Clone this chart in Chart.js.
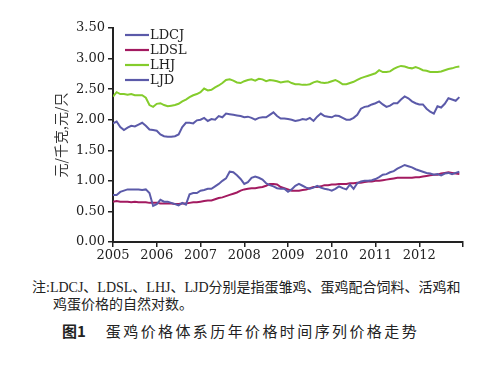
<!DOCTYPE html>
<html>
<head>
<meta charset="utf-8">
<script src="https://cdn.jsdelivr.net/npm/chart.js@4/dist/chart.umd.min.js"></script>
<style>
  body { margin: 0; background: #fff; width: 477px; height: 366px; position: relative; overflow: hidden; }
  #wrap { position: absolute; left: 0; top: 0; width: 477px; height: 270px; }
  .cap { position: absolute; font-family: "Liberation Serif", "Noto Sans CJK SC", serif; color: #222; white-space: nowrap; }
  #note1 { left: 32px; top: 276px; font-size: 14px; }
  #note2 { left: 53px; top: 293px; font-size: 14px; }
  #title { left: 62px; top: 320px; font-size: 15px; font-family: "Noto Sans CJK SC", sans-serif; }
  #title b { margin-right: 20px; }
  #title span { letter-spacing: 2.4px; }
</style>
</head>
<body>
<div id="wrap"><canvas id="c"></canvas></div>
<div class="cap" id="note1">注:LDCJ、LDSL、LHJ、LJD分别是指蛋雏鸡、蛋鸡配合饲料、活鸡和</div>
<div class="cap" id="note2">鸡蛋价格的自然对数。</div>
<div class="cap" id="title"><b>图1</b><span>蛋鸡价格体系历年价格时间序列价格走势</span></div>
<script>
// monthly series, Jan 2005 .. Dec 2012 (index 0..95)
const startYear = 2005;
const months = 96;

const ldcj = [
  0.77, 0.77, 0.82, 0.84, 0.86, 0.86, 0.86, 0.86, 0.85, 0.86, 0.80, 0.59,
  0.62, 0.69, 0.66, 0.66, 0.64, 0.62, 0.60, 0.64, 0.61, 0.78, 0.80, 0.80,
  0.84, 0.85, 0.87, 0.87, 0.91, 0.95, 1.00, 1.04, 1.15, 1.14, 1.09, 1.03,
  0.95, 0.98, 1.05, 1.07, 1.05, 1.02, 0.96, 0.93, 0.91, 0.88, 0.87, 0.87,
  0.82, 0.86, 0.92, 0.95, 0.92, 0.89, 0.87, 0.89, 0.92, 0.89, 0.87, 0.86,
  0.84, 0.87, 0.91, 0.88, 0.86, 0.94, 0.87, 0.96, 0.99, 1.00, 1.00, 1.01,
  1.03, 1.06, 1.10, 1.11, 1.14, 1.16, 1.20, 1.23, 1.26, 1.24, 1.22, 1.19,
  1.17, 1.15, 1.13, 1.12, 1.10, 1.11, 1.09, 1.12, 1.13, 1.11, 1.13, 1.15
];
const ldsl = [
  0.66, 0.67, 0.66, 0.66, 0.66, 0.65, 0.66, 0.65, 0.65, 0.65, 0.64, 0.64,
  0.64, 0.63, 0.63, 0.63, 0.63, 0.62, 0.62, 0.63, 0.63, 0.64, 0.65, 0.65,
  0.66, 0.67, 0.68, 0.68, 0.70, 0.72, 0.73, 0.75, 0.77, 0.79, 0.81, 0.84,
  0.86, 0.87, 0.88, 0.88, 0.89, 0.90, 0.92, 0.95, 0.95, 0.94, 0.90, 0.88,
  0.86, 0.84, 0.84, 0.84, 0.85, 0.86, 0.88, 0.90, 0.90, 0.91, 0.93, 0.93,
  0.94, 0.94, 0.95, 0.95, 0.95, 0.96, 0.96, 0.97, 0.97, 0.98, 0.99, 0.99,
  1.00, 1.00, 1.01, 1.02, 1.03, 1.04, 1.05, 1.05, 1.05, 1.05, 1.05, 1.06,
  1.06, 1.07, 1.08, 1.09, 1.10, 1.10, 1.12, 1.13, 1.14, 1.13, 1.12, 1.11
];
const lhj = [
  2.38, 2.45, 2.42, 2.42, 2.41, 2.42, 2.40, 2.40, 2.40, 2.36, 2.24, 2.21,
  2.26, 2.27, 2.24, 2.22, 2.23, 2.24, 2.26, 2.30, 2.33, 2.37, 2.40, 2.42,
  2.45, 2.51, 2.48, 2.49, 2.53, 2.56, 2.60, 2.65, 2.66, 2.64, 2.61, 2.60,
  2.63, 2.65, 2.66, 2.64, 2.67, 2.66, 2.63, 2.65, 2.64, 2.63, 2.61, 2.62,
  2.63, 2.60, 2.58, 2.58, 2.57, 2.57, 2.58, 2.61, 2.63, 2.61, 2.60, 2.61,
  2.63, 2.65, 2.62, 2.58, 2.58, 2.60, 2.62, 2.65, 2.68, 2.70, 2.72, 2.74,
  2.76, 2.81, 2.78, 2.78, 2.79, 2.83, 2.86, 2.88, 2.87, 2.85, 2.84, 2.86,
  2.84, 2.81, 2.80, 2.78, 2.78, 2.78, 2.79, 2.81, 2.83, 2.84, 2.86, 2.87
];
const ljd = [
  1.94, 1.97, 1.88, 1.83, 1.87, 1.90, 1.89, 1.92, 1.95, 1.90, 1.84, 1.83,
  1.82, 1.76, 1.73, 1.72, 1.72, 1.73, 1.76, 1.88, 1.95, 1.95, 1.94, 1.99,
  2.00, 2.03, 1.98, 2.01, 2.00, 2.06, 2.04, 2.10, 2.09, 2.08, 2.07, 2.06,
  2.04, 2.05, 2.03, 2.00, 2.03, 2.04, 2.04, 2.08, 2.12, 2.06, 2.02, 2.02,
  2.01, 2.00, 1.98, 1.99, 2.01, 2.00, 2.03, 1.98, 2.05, 2.10, 2.06, 2.05,
  2.04, 2.07, 2.06, 2.03, 2.00, 2.00, 2.03, 2.08, 2.18, 2.21, 2.22, 2.25,
  2.27, 2.30, 2.25, 2.21, 2.23, 2.27, 2.27, 2.33, 2.38, 2.35, 2.30, 2.27,
  2.25, 2.25, 2.18, 2.13, 2.10, 2.22, 2.20, 2.26, 2.35, 2.33, 2.31, 2.37
];

const seriesNames = ["LDCJ", "LDSL", "LHJ", "LJD"];
const seriesData = [ldcj, ldsl, lhj, ljd];
const seriesColors = ["#5b5aa9", "#a31a60", "#84cc2c", "#5b5aa9"];

const yTicks = [0, 0.5, 1, 1.5, 2, 2.5, 3, 3.5];

const serif = "'DejaVu Serif', 'Liberation Serif', serif";

// legend drawn inside the plot, top-left
const innerLegend = {
  id: "innerLegend",
  afterDraw(chart) {
    const ctx = chart.ctx;
    const a = chart.chartArea;
    ctx.save();
    ctx.font = "13px " + serif;
    ctx.textBaseline = "middle";
    chart.data.datasets.forEach((ds, i) => {
      const y = a.top + 7 + i * 15;
      ctx.strokeStyle = ds.borderColor;
      ctx.lineWidth = 2.2;
      ctx.beginPath();
      ctx.moveTo(a.left + 12, y);
      ctx.lineTo(a.left + 36, y);
      ctx.stroke();
      ctx.fillStyle = "#222";
      ctx.fillText(ds.label, a.left + 37, y + 1);
    });
    ctx.restore();
  }
};

new Chart(document.getElementById("c"), {
  type: "line",
  data: {
    datasets: seriesNames.map((name, k) => ({
      label: name,
      data: seriesData[k].map((v, i) => ({ x: i, y: v })),
      borderColor: seriesColors[k],
      backgroundColor: seriesColors[k],
      borderWidth: 2,
      pointRadius: 0,
      tension: 0,
      fill: false,
    })),
  },
  options: {
    responsive: true,
    maintainAspectRatio: false,
    animation: false,
    layout: { padding: { left: 52, top: 28, right: 14, bottom: 0 } },
    plugins: { legend: { display: false }, tooltip: { enabled: false } },
    scales: {
      x: {
        type: "linear",
        min: 0,
        max: months,
        afterFit: (s) => { s.height = 28; },
        afterBuildTicks: (s) => {
          s.ticks = [];
          for (let v = 0; v <= months; v += 12) s.ticks.push({ value: v });
        },
        ticks: {
          autoSkip: false,
          maxRotation: 0,
          padding: 1,
          color: "#222",
          font: { family: serif, size: 13 },
          callback: (v) => (v < months ? String(startYear + v / 12) : ""),
        },
        grid: { drawOnChartArea: false, tickLength: 5, color: "#222", lineWidth: 1.5 },
        border: { color: "#222", width: 2 },
      },
      y: {
        min: 0,
        max: 3.5,
        afterFit: (s) => { s.width = 61; },
        afterBuildTicks: (s) => { s.ticks = yTicks.map((v) => ({ value: v })); },
        ticks: {
          padding: 3,
          color: "#222",
          font: { family: serif, size: 13 },
          callback: (v) => v.toFixed(2),
        },
        title: {
          display: true,
          text: "元/千克,元/只",
          color: "#333",
          padding: 0,
          font: { family: "'Noto Sans CJK SC', sans-serif", size: 14 },
        },
        grid: { drawOnChartArea: false, tickLength: 5, color: "#222", lineWidth: 1.5 },
        border: { color: "#222", width: 2 },
      },
    },
  },
  plugins: [innerLegend],
});
</script>
</body>
</html>
